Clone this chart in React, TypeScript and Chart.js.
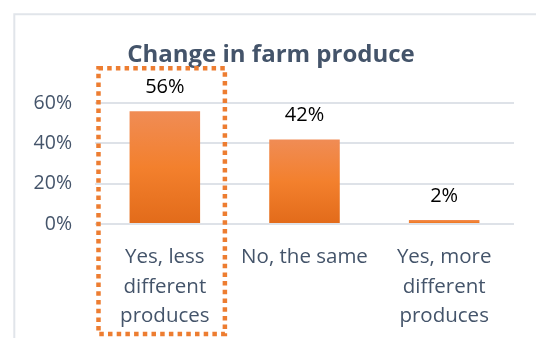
import React, { useEffect, useRef } from 'react';
import { Chart, registerables } from 'chart.js';

Chart.register(...registerables);

const TITLE = 'Change in farm produce';
const CATEGORIES: string[][] = [
  ['Yes, less', 'different', 'produces'],
  ['No, the same'],
  ['Yes, more', 'different', 'produces'],
];
const VALUES: number[] = [56, 42, 2];
const Y_MIN = 0;
const Y_MAX = 60;
const Y_STEP = 20;
const HIGHLIGHT_INDEX = 0;

const FONT = "'Open Sans', sans-serif";
const TEXT_COLOR = '#44546A';
const GRID_COLOR = '#DEE2E8';
const ORANGE = '#ED7D31';

const framePlugin = {
  id: 'frame',
  beforeDraw(chart: any) {
    const { ctx, width, height } = chart;
    ctx.save();
    ctx.fillStyle = '#FFFFFF';
    ctx.fillRect(0, 0, width, height);
    ctx.strokeStyle = '#E1E5EA';
    ctx.lineWidth = 2;
    ctx.beginPath();
    ctx.moveTo(14.3, height + 2);
    ctx.lineTo(14.3, 14.3);
    ctx.lineTo(width + 2, 14.3);
    ctx.stroke();
    ctx.restore();
  },
};

const dataLabelPlugin = {
  id: 'dataLabels',
  afterDatasetsDraw(chart: any) {
    const { ctx } = chart;
    const meta = chart.getDatasetMeta(0);
    ctx.save();
    ctx.fillStyle = '#000000';
    ctx.font = `20px ${FONT}`;
    ctx.textAlign = 'center';
    ctx.textBaseline = 'middle';
    meta.data.forEach((bar: any, i: number) => {
      ctx.fillText(`${VALUES[i]}%`, bar.x, bar.y - 24);
    });
    ctx.restore();
  },
};

const highlightPlugin = {
  id: 'highlight',
  afterDraw(chart: any) {
    const { ctx, scales, height } = chart;
    const xs = scales.x;
    const ys = scales.y;
    const cx = xs.getPixelForValue(HIGHLIGHT_INDEX);
    const cat = xs.width / CATEGORIES.length;
    const left = cx - 0.475 * cat;
    const right = cx + 0.43 * cat;
    const top = ys.getPixelForValue(Y_MAX) - 35;
    const bottom = height - 4;
    ctx.save();
    ctx.strokeStyle = ORANGE;
    ctx.lineWidth = 4.5;
    ctx.setLineDash([4.5, 4.2]);
    ctx.strokeRect(left, top, right - left, bottom - top);
    ctx.restore();
  },
};

export default function App() {
  const ref = useRef<HTMLCanvasElement | null>(null);

  useEffect(() => {
    if (!ref.current) return;
    const chart = new Chart(ref.current, {
      type: 'bar',
      data: {
        labels: CATEGORIES,
        datasets: [
          {
            data: VALUES,
            backgroundColor: (c: any) => {
              const ch = c.chart;
              const { chartArea, scales } = ch;
              if (!chartArea || c.type !== 'data' || !scales.y) return '#F07F2C';
              const v = VALUES[c.dataIndex];
              const y0 = scales.y.getPixelForValue(Y_MIN);
              const y1 = scales.y.getPixelForValue(v);
              if (!isFinite(y0) || !isFinite(y1) || y0 === y1) return '#F07F2C';
              const g = ch.ctx.createLinearGradient(0, y1, 0, y0);
              g.addColorStop(0, '#F08C55');
              g.addColorStop(0.5, '#F3802D');
              g.addColorStop(1, '#E26B1A');
              return g;
            },
            borderWidth: 0,
            categoryPercentage: 1,
            barPercentage: 0.505,
          },
        ],
      },
      options: {
        responsive: false,
        animation: false,
        devicePixelRatio: 1,
        layout: { padding: { left: 28, right: 22, top: 0, bottom: 0 } },
        plugins: {
          legend: { display: false },
          tooltip: { enabled: false },
          title: {
            display: true,
            text: TITLE,
            color: TEXT_COLOR,
            font: { family: FONT, size: 24, weight: 'bold', lineHeight: 1.2 },
            padding: { top: 41, bottom: 33.4 },
          },
        },
        scales: {
          x: {
            grid: { display: false, drawTicks: false },
            border: { display: false },
            ticks: {
              color: TEXT_COLOR,
              font: { family: FONT, size: 20.5, lineHeight: 1.42 },
              padding: 19,
              maxRotation: 0,
              autoSkip: false,
            },
            afterFit: (s: any) => {
              s.height = 114;
            },
          },
          y: {
            min: Y_MIN,
            max: Y_MAX,
            grid: { color: GRID_COLOR, lineWidth: 2, drawTicks: false },
            border: { display: false },
            ticks: {
              stepSize: Y_STEP,
              color: TEXT_COLOR,
              font: { family: FONT, size: 19.5 },
              padding: 23,
              callback: (v: any) => `${v}%`,
            },
            afterFit: (s: any) => {
              s.width = 67;
            },
          },
        },
      },
      plugins: [framePlugin, dataLabelPlugin, highlightPlugin],
    });
    return () => chart.destroy();
  }, []);

  return (
    <div style={{ position: 'absolute', left: 0, top: 0, width: 536, height: 338, background: '#fff' }}>
      <canvas ref={ref} width={536} height={338} style={{ display: 'block' }} />
    </div>
  );
}
